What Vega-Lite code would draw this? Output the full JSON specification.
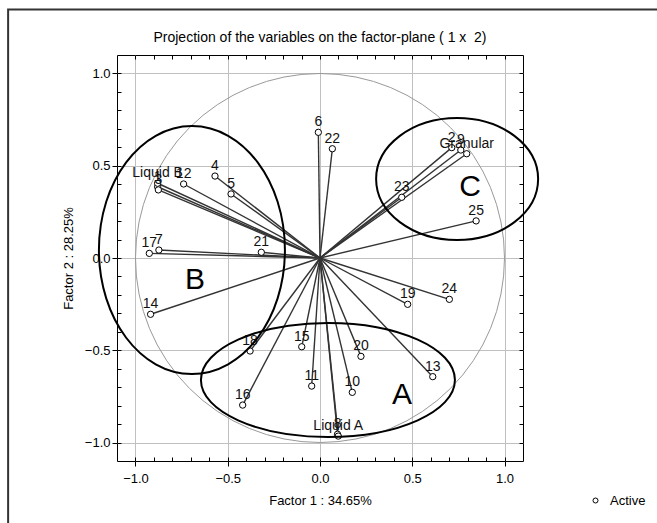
{
  "$schema": "https://vega.github.io/schema/vega-lite/v6.json",
  "autosize": {"type": "none"},
  "padding": {"left": 117, "top": 55, "right": 134, "bottom": 62},
  "width": 406,
  "height": 406,
  "background": "white",
  "title": {"text": "Projection of the variables on the factor-plane ( 1 x \u00a02)", "fontSize": 14, "fontWeight": "normal", "font": "Liberation Sans", "color": "black", "offset": 10, "dy": 47},
  "config": {
    "view": {"stroke": "black", "strokeWidth": 1},
    "axis": {"labelFont": "Liberation Sans", "titleFont": "Liberation Sans", "labelFontSize": 13, "titleFontSize": 13, "titleFontWeight": "normal", "labelColor": "black", "titleColor": "black", "tickColor": "black", "domain": false},
    "legend": {"labelFont": "Liberation Sans", "labelFontSize": 13, "labelColor": "black"}
  },
  "datasets": {
    "vars": [
      {"v": "1", "x": -0.880, "y": 0.386, "kind": "Active"},
      {"v": "3", "x": -0.876, "y": 0.369, "kind": "Active"},
      {"v": "Liquid B", "x": -0.880, "y": 0.405, "kind": "Active"},
      {"v": "12", "x": -0.739, "y": 0.401, "kind": "Active"},
      {"v": "4", "x": -0.569, "y": 0.444, "kind": "Active"},
      {"v": "5", "x": -0.482, "y": 0.347, "kind": "Active"},
      {"v": "6", "x": -0.009, "y": 0.681, "kind": "Active"},
      {"v": "22", "x": 0.067, "y": 0.592, "kind": "Active"},
      {"v": "17", "x": -0.925, "y": 0.025, "kind": "Active"},
      {"v": "7", "x": -0.873, "y": 0.043, "kind": "Active"},
      {"v": "21", "x": -0.318, "y": 0.031, "kind": "Active"},
      {"v": "14", "x": -0.918, "y": -0.305, "kind": "Active"},
      {"v": "23", "x": 0.443, "y": 0.329, "kind": "Active"},
      {"v": "2", "x": 0.714, "y": 0.598, "kind": "Active"},
      {"v": "9", "x": 0.763, "y": 0.585, "kind": "Active"},
      {"v": "Granular", "x": 0.795, "y": 0.565, "kind": "Active"},
      {"v": "25", "x": 0.846, "y": 0.201, "kind": "Active"},
      {"v": "19", "x": 0.475, "y": -0.251, "kind": "Active"},
      {"v": "24", "x": 0.701, "y": -0.224, "kind": "Active"},
      {"v": "13", "x": 0.611, "y": -0.643, "kind": "Active"},
      {"v": "20", "x": 0.222, "y": -0.533, "kind": "Active"},
      {"v": "15", "x": -0.099, "y": -0.481, "kind": "Active"},
      {"v": "18", "x": -0.379, "y": -0.504, "kind": "Active"},
      {"v": "11", "x": -0.045, "y": -0.694, "kind": "Active"},
      {"v": "10", "x": 0.175, "y": -0.728, "kind": "Active"},
      {"v": "16", "x": -0.419, "y": -0.797, "kind": "Active"},
      {"v": "8", "x": 0.095, "y": -0.955, "kind": "Active"},
      {"v": "Liquid A", "x": 0.099, "y": -0.965, "kind": "Active"}
    ],
    "groups": [
      {"g": "A", "x": 0.043, "y": -0.661, "lx": 0.444, "ly": -0.743},
      {"g": "B", "x": -0.694, "y": 0.043, "lx": -0.678, "ly": -0.119},
      {"g": "C", "x": 0.743, "y": 0.428, "lx": 0.813, "ly": 0.385}
    ]
  },
  "resolve": {"axis": {"x": "independent", "y": "independent"}},
  "layer": [
    {
      "data": {"values": [{}]},
      "mark": {"type": "rect", "fill": null, "stroke": "#333333", "strokeWidth": 2, "clip": false},
      "encoding": {
        "x": {"datum": -1.69, "type": "quantitative", "scale": {"domain": [-1.1, 1.1], "nice": false, "zero": false}, "axis": null},
        "x2": {"datum": 1.95},
        "y": {"datum": 1.347, "type": "quantitative", "scale": {"domain": [-1.1, 1.1], "nice": false, "zero": false}, "axis": null},
        "y2": {"datum": -1.5}
      }
    },
    {
      "data": {"values": [{}]},
      "mark": {"type": "point", "shape": "circle", "size": 136161, "filled": false, "stroke": "#999999", "strokeWidth": 1, "opacity": 1},
      "encoding": {
        "x": {"datum": 0, "type": "quantitative", "scale": {"domain": [-1.1, 1.1], "nice": false, "zero": false}, "axis": null},
        "y": {"datum": 0, "type": "quantitative", "scale": {"domain": [-1.1, 1.1], "nice": false, "zero": false}, "axis": null}
      }
    },
    {
      "data": {"name": "vars"},
      "mark": {"type": "rule", "stroke": "#333333", "strokeWidth": 1.4},
      "encoding": {
        "x": {"field": "x", "type": "quantitative", "scale": {"domain": [-1.1, 1.1], "nice": false, "zero": false},
          "axis": {"orient": "bottom", "values": [-1, -0.5, 0, 0.5, 1], "format": ".1f", "grid": true, "gridColor": "#c0c0c0", "tickSize": 5, "labelPadding": 6, "title": "Factor 1 : 34.65%", "titlePadding": 9}},
        "y": {"field": "y", "type": "quantitative", "scale": {"domain": [-1.1, 1.1], "nice": false, "zero": false},
          "axis": {"orient": "left", "values": [-1, -0.5, 0, 0.5, 1], "format": ".1f", "grid": true, "gridColor": "#c0c0c0", "tickSize": 5, "labelPadding": 2, "title": "Factor 2 : 28.25%", "titlePadding": 9}},
        "x2": {"datum": 0},
        "y2": {"datum": 0}
      }
    },
    {
      "data": {"name": "vars"},
      "mark": {"type": "point", "shape": "circle", "size": 40, "filled": false, "fill": "white", "strokeWidth": 1, "opacity": 1},
      "encoding": {
        "x": {"field": "x", "type": "quantitative", "scale": {"domain": [-1.1, 1.1], "nice": false, "zero": false},
          "axis": {"orient": "bottom", "values": [-1, -0.9, -0.8, -0.7, -0.6, -0.5, -0.4, -0.3, -0.2, -0.1, 0, 0.1, 0.2, 0.3, 0.4, 0.5, 0.6, 0.7, 0.8, 0.9, 1], "labels": false, "grid": false, "tickSize": -4, "title": null}},
        "y": {"field": "y", "type": "quantitative", "scale": {"domain": [-1.1, 1.1], "nice": false, "zero": false},
          "axis": {"orient": "left", "values": [-1, -0.9, -0.8, -0.7, -0.6, -0.5, -0.4, -0.3, -0.2, -0.1, 0, 0.1, 0.2, 0.3, 0.4, 0.5, 0.6, 0.7, 0.8, 0.9, 1], "labels": false, "grid": false, "tickSize": -4, "title": null}},
        "color": {"field": "kind", "type": "nominal", "scale": {"range": ["black"]},
          "legend": {"title": null, "orient": "none", "legendX": 472, "legendY": 439, "symbolType": "circle", "symbolSize": 25, "symbolFillColor": "white", "symbolStrokeWidth": 1, "labelOffset": 8}}
      }
    },
    {
      "data": {"name": "vars"},
      "mark": {"type": "text", "font": "Liberation Sans", "fontSize": 14, "color": "#111111", "baseline": "bottom", "align": "center", "dy": -3},
      "encoding": {
        "x": {"field": "x", "type": "quantitative", "scale": {"domain": [-1.1, 1.1], "nice": false, "zero": false},
          "axis": {"orient": "top", "values": [-1, -0.9, -0.8, -0.7, -0.6, -0.5, -0.4, -0.3, -0.2, -0.1, 0, 0.1, 0.2, 0.3, 0.4, 0.5, 0.6, 0.7, 0.8, 0.9, 1], "labels": false, "grid": false, "tickSize": -4, "title": null}},
        "y": {"field": "y", "type": "quantitative", "scale": {"domain": [-1.1, 1.1], "nice": false, "zero": false},
          "axis": {"orient": "right", "values": [-1, -0.9, -0.8, -0.7, -0.6, -0.5, -0.4, -0.3, -0.2, -0.1, 0, 0.1, 0.2, 0.3, 0.4, 0.5, 0.6, 0.7, 0.8, 0.9, 1], "labels": false, "grid": false, "tickSize": -4, "title": null}},
        "text": {"field": "v"}
      }
    },
    {
      "data": {"name": "groups"},
      "transform": [{"filter": "datum.g === 'A'"}],
      "mark": {"type": "point", "shape": "M-1,0A1,0.449,0,1,1,1,0A1,0.449,0,1,1,-1,0Z", "size": 64516, "filled": false, "stroke": "black", "strokeWidth": 2, "opacity": 1, "clip": false},
      "encoding": {
        "x": {"field": "x", "type": "quantitative", "scale": {"domain": [-1.1, 1.1], "nice": false, "zero": false}, "axis": null},
        "y": {"field": "y", "type": "quantitative", "scale": {"domain": [-1.1, 1.1], "nice": false, "zero": false}, "axis": null}
      }
    },
    {
      "data": {"name": "groups"},
      "transform": [{"filter": "datum.g === 'B'"}],
      "mark": {"type": "point", "shape": "M0,-1A0.75,1,0,1,1,0,1A0.75,1,0,1,1,0,-1Z", "size": 61504, "filled": false, "stroke": "black", "strokeWidth": 2, "opacity": 1, "clip": false},
      "encoding": {
        "x": {"field": "x", "type": "quantitative", "scale": {"domain": [-1.1, 1.1], "nice": false, "zero": false}, "axis": null},
        "y": {"field": "y", "type": "quantitative", "scale": {"domain": [-1.1, 1.1], "nice": false, "zero": false}, "axis": null}
      }
    },
    {
      "data": {"name": "groups"},
      "transform": [{"filter": "datum.g === 'C'"}],
      "mark": {"type": "point", "shape": "M-1,0A1,0.753,0,1,1,1,0A1,0.753,0,1,1,-1,0Z", "size": 26244, "filled": false, "stroke": "black", "strokeWidth": 2, "opacity": 1, "clip": false},
      "encoding": {
        "x": {"field": "x", "type": "quantitative", "scale": {"domain": [-1.1, 1.1], "nice": false, "zero": false}, "axis": null},
        "y": {"field": "y", "type": "quantitative", "scale": {"domain": [-1.1, 1.1], "nice": false, "zero": false}, "axis": null}
      }
    },
    {
      "data": {"name": "groups"},
      "mark": {"type": "text", "font": "Liberation Sans", "fontSize": 30, "color": "black", "baseline": "middle", "align": "center"},
      "encoding": {
        "x": {"field": "lx", "type": "quantitative", "scale": {"domain": [-1.1, 1.1], "nice": false, "zero": false}, "axis": null},
        "y": {"field": "ly", "type": "quantitative", "scale": {"domain": [-1.1, 1.1], "nice": false, "zero": false}, "axis": null},
        "text": {"field": "g"}
      }
    }
  ]
}
